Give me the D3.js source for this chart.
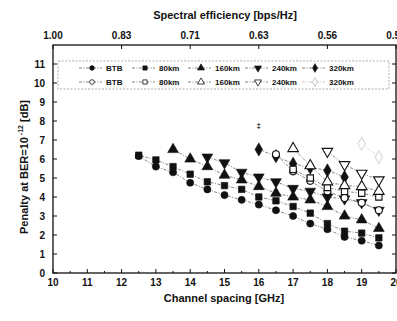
<!DOCTYPE html>
<html>
<head>
<meta charset="utf-8">
<script src="https://cdn.jsdelivr.net/npm/d3@7"></script>
<style>
  body { margin: 0; background: #fff; }
  svg text { font-family: "Liberation Sans", Arial, sans-serif; font-weight: bold; fill: #111; }
</style>
</head>
<body>
<div id="chart"></div>
<script>
// channel spacing ticks and top axis (spectral efficiency) labels
const xTicks = [10, 11, 12, 13, 14, 15, 16, 17, 18, 19, 20];
const yTicks = [0, 1, 2, 3, 4, 5, 6, 7, 8, 9, 10, 11];
const topTicks = [10, 12, 14, 16, 18, 20];
const topLabels = ["1.00", "0.83", "0.71", "0.63", "0.56", "0.50"];

// filled markers
const btbFilled = [[12.5, 6.15], [13, 5.6], [13.5, 5.3], [14, 4.75], [14.5, 4.4], [15, 4.1], [15.5, 3.85], [16, 3.6], [16.5, 3.3], [17, 3.0], [17.5, 2.6], [18, 2.3], [18.5, 1.9], [19, 1.7], [19.5, 1.45]];
const km80Filled = [[12.5, 6.2], [13, 5.95], [13.5, 5.6], [14, 5.2], [14.5, 4.8], [15, 4.6], [15.5, 4.4], [16, 4.0], [16.5, 3.8], [17, 3.5], [17.5, 3.15], [18, 2.6], [18.5, 2.2], [19, 2.1], [19.5, 1.85]];
const km160Filled = [[13.5, 6.5], [14, 6.0], [14.5, 5.6], [15, 5.15], [15.5, 4.9], [16, 4.55], [16.5, 4.2], [17, 4.0], [17.5, 3.85], [18, 3.5], [18.5, 3.0], [19, 2.8], [19.5, 2.35]];
const km240Filled = [[14.5, 6.1], [15, 5.8], [15.5, 5.3], [16, 5.05], [16.5, 4.8], [17, 4.45], [17.5, 4.3], [18, 4.0], [18.5, 3.9], [19, 3.7], [19.5, 3.3]];
const km320Filled = [[16, 6.5], [16.5, 6.15], [17, 5.75], [17.5, 5.55], [18, 5.4], [18.5, 5.05]];

// open markers
const btbOpen = [[16.5, 6.25], [17, 5.35], [17.5, 4.85], [18, 4.3], [18.5, 3.95], [19, 3.7], [19.5, 3.3]];
const km80Open = [[17, 5.45], [17.5, 5.0], [18, 4.5], [18.5, 4.3], [19, 4.2], [19.5, 4.0]];
const km160Open = [[17, 6.55], [17.5, 5.65], [18, 4.8], [18.5, 4.6], [19, 4.55], [19.5, 4.3]];
const km240Open = [[18, 6.4], [18.5, 5.7], [19, 5.25], [19.5, 4.9]];
const km320Open = [[19, 6.8], [19.5, 6.1]];

const width = 397, height = 321;
const margin = { top: 45, right: 1, bottom: 48, left: 53 };

const svg = d3.select("#chart").append("svg")
    .attr("width", width)
    .attr("height", height);

const x = d3.scaleLinear().domain([10, 20]).range([margin.left, width - margin.right]);
const y = d3.scaleLinear().domain([0, 12]).range([height - margin.bottom, margin.top]);
const x0 = margin.left, x1 = width - margin.right;
const yBot = height - margin.bottom, yTop = margin.top;

const series = [
    { name: "BTB", data: btbFilled, type: d3.symbolCircle, size: 40, rot: 0, filled: true },
    { name: "80km", data: km80Filled, type: d3.symbolSquare, size: 42, rot: 0, filled: true },
    { name: "160km", data: km160Filled, type: d3.symbolTriangle, size: 50, rot: 0, filled: true },
    { name: "240km", data: km240Filled, type: d3.symbolTriangle, size: 50, rot: 180, filled: true },
    { name: "320km", data: km320Filled, type: d3.symbolDiamond, size: 50, rot: 0, filled: true },
    { name: "BTB", data: btbOpen, type: d3.symbolCircle, size: 38, rot: 0, filled: false },
    { name: "80km", data: km80Open, type: d3.symbolSquare, size: 40, rot: 0, filled: false },
    { name: "160km", data: km160Open, type: d3.symbolTriangle, size: 48, rot: 0, filled: false },
    { name: "240km", data: km240Open, type: d3.symbolTriangle, size: 48, rot: 180, filled: false },
    { name: "320km", data: km320Open, type: d3.symbolDiamond, size: 48, rot: 0, filled: false, faint: true }
];

// dotted connecting lines
const line = d3.line().x(d => x(d[0])).y(d => y(d[1]));
series.forEach(s => {
    svg.append("path")
        .attr("d", line(s.data))
        .attr("fill", "none")
        .attr("stroke", s.faint ? "#d8d8d8" : "#777")
        .attr("stroke-width", 0.9)
        .attr("stroke-dasharray", "3,1.5,1,1.5");
});

// markers
series.forEach(s => {
    const sym = d3.symbol().type(s.type).size(s.size);
    svg.append("g").selectAll("path")
        .data(s.data)
        .enter()
        .append("path")
        .attr("d", sym)
        .attr("transform", d => `translate(${x(d[0])},${y(d[1])}) rotate(${s.rot})`)
        .attr("fill", s.filled ? "#111" : "#fff")
        .attr("stroke", s.faint ? "#d8d8d8" : "#111")
        .attr("stroke-width", s.filled ? 0.6 : 1.1);
});

// frame
svg.append("rect")
    .attr("x", x0).attr("y", yTop)
    .attr("width", x1 - x0).attr("height", yBot - yTop)
    .attr("fill", "none").attr("stroke", "#111").attr("stroke-width", 1.3);

// bottom axis ticks (inward), minor at halves
d3.range(10, 20.01, 0.5).forEach(v => {
    const major = Number.isInteger(v);
    svg.append("line")
        .attr("x1", x(v)).attr("x2", x(v))
        .attr("y1", yBot).attr("y2", yBot - (major ? 4 : 2))
        .attr("stroke", "#111");
});
svg.selectAll(".xlab")
    .data(xTicks)
    .enter().append("text")
    .attr("class", "xlab")
    .attr("x", d => x(d))
    .attr("y", yBot + 13)
    .attr("text-anchor", "middle")
    .style("font-size", "10px")
    .text(d => d);

// left and right axis ticks
yTicks.forEach(v => {
    svg.append("line")
        .attr("x1", x0).attr("x2", x0 + 4)
        .attr("y1", y(v)).attr("y2", y(v))
        .attr("stroke", "#111");
    svg.append("line")
        .attr("x1", x1).attr("x2", x1 - 4)
        .attr("y1", y(v)).attr("y2", y(v))
        .attr("stroke", "#111");
});
svg.selectAll(".ylab")
    .data(yTicks)
    .enter().append("text")
    .attr("class", "ylab")
    .attr("x", x0 - 8)
    .attr("y", d => y(d) + 3.5)
    .attr("text-anchor", "end")
    .style("font-size", "10px")
    .text(d => d);

// top axis
topTicks.forEach((v, i) => {
    svg.append("line")
        .attr("x1", x(v)).attr("x2", x(v))
        .attr("y1", yTop).attr("y2", yTop + 4)
        .attr("stroke", "#111");
    svg.append("text")
        .attr("x", x(v))
        .attr("y", yTop - 6)
        .attr("text-anchor", "middle")
        .style("font-size", "10px")
        .text(topLabels[i]);
});

// axis titles
svg.append("text")
    .attr("x", 225).attr("y", 19)
    .attr("text-anchor", "middle")
    .style("font-size", "11px")
    .text("Spectral efficiency [bps/Hz]");

svg.append("text")
    .attr("x", 224).attr("y", 302)
    .attr("text-anchor", "middle")
    .style("font-size", "11px")
    .text("Channel spacing [GHz]");

const yTitle = svg.append("text")
    .attr("transform", `translate(28,${(yTop + yBot) / 2 + 8}) rotate(-90)`)
    .attr("text-anchor", "middle")
    .style("font-size", "11px");
yTitle.append("tspan").text("Penalty at BER=10");
yTitle.append("tspan").attr("dy", -5).style("font-size", "7px").text(" -12");
yTitle.append("tspan").attr("dy", 5).text(" [dB]");

// small annotation mark
svg.append("text")
    .attr("x", x(16)).attr("y", 128)
    .attr("text-anchor", "middle")
    .style("font-size", "8px")
    .text("‡");

// legend
const legX = 58, legY = 61, legW = 331, legH = 28;
svg.append("rect")
    .attr("x", legX).attr("y", legY)
    .attr("width", legW).attr("height", legH)
    .attr("fill", "#fff")
    .attr("stroke", "#999")
    .attr("stroke-width", 0.8)
    .attr("stroke-dasharray", "2,1.5");

const legCols = [92, 145, 201, 258, 315];
series.forEach((s, i) => {
    const row = s.filled ? 0 : 1;
    const cx = legCols[i % 5];
    const cy = legY + 7 + row * 14;
    svg.append("line")
        .attr("x1", cx - 13).attr("x2", cx + 10)
        .attr("y1", cy).attr("y2", cy)
        .attr("stroke", s.faint ? "#bbb" : "#777")
        .attr("stroke-width", 0.9)
        .attr("stroke-dasharray", "3,1.5,1,1.5");
    svg.append("path")
        .attr("d", d3.symbol().type(s.type).size(s.size * 0.45)())
        .attr("transform", `translate(${cx},${cy}) rotate(${s.rot})`)
        .attr("fill", s.filled ? "#111" : "#fff")
        .attr("stroke", s.faint ? "#bbb" : "#111")
        .attr("stroke-width", s.filled ? 0.5 : 0.8);
    svg.append("text")
        .attr("x", cx + 14)
        .attr("y", cy + 3)
        .style("font-size", "8px")
        .text(s.name);
});
</script>
</body>
</html>
